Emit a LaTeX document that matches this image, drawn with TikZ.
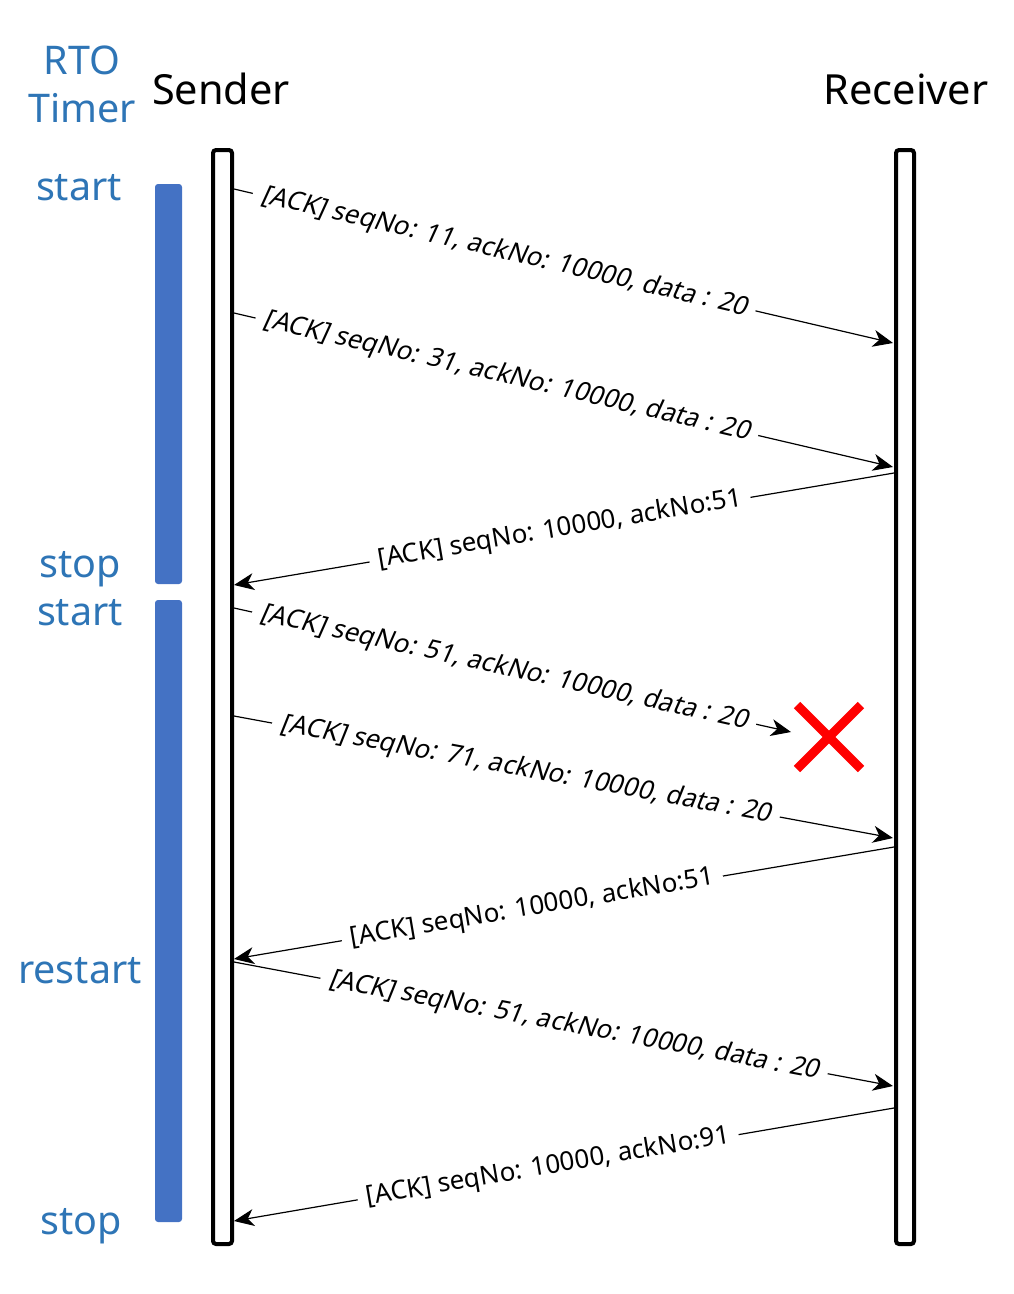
\documentclass[tikz,border=0pt]{standalone}
\usepackage{fontspec}
\setmainfont{Noto Sans}
\newfontfamily\slfont[FakeSlant=0.2]{Noto Sans}
\usetikzlibrary{arrows.meta}
\definecolor{timerblue}{HTML}{4472C4}
\definecolor{textblue}{HTML}{2E75B6}
\tikzset{
  lifeline/.style={draw=black, line width=4pt, rounded corners=3pt, fill=white},
  timerbar/.style={fill=timerblue, draw=none, rounded corners=3pt},
  timertext/.style={text=textblue, font=\fontsize{39.5}{41}\selectfont, inner sep=0pt},
  header/.style={font=\fontsize{41.5}{43}\selectfont, inner sep=0pt},
  msg/.style={line width=1.2pt, -{Stealth[length=20pt,width=17pt,inset=6pt]}},
  outlbl/.style={sloped, fill=white, inner xsep=9pt, inner ysep=2pt, font=\fontsize{26}{28}\slfont},
  retlbl/.style={sloped, fill=white, inner xsep=9pt, inner ysep=2pt, font=\fontsize{26}{28}\selectfont},
  lostx/.style={draw=red, line width=9pt}
}
\begin{document}
\begin{tikzpicture}[x=1pt,y=-1pt]
\useasboundingbox (0,0) rectangle (1014,1294);
% headers
\node[timertext] (rto) at (82,60) {RTO};
\node[timertext] (timer) at (82,108) {Timer};
\node[header] (sender) at (221,89) {Sender};
\node[header] (receiver) at (906,89) {Receiver};
% lifelines
\draw[lifeline] (213,150) rectangle (232,1244);
\draw[lifeline] (896,150) rectangle (914,1244);
% timer bars
\fill[timerbar] (155,184) rectangle (182,584);
\fill[timerbar] (155,600) rectangle (182,1222);
% timer labels
\node[timertext] (t1) at (79,188) {start};
\node[timertext] (t2) at (80,569) {stop};
\node[timertext] (t3) at (80,613) {start};
\node[timertext] (t4) at (80,971) {restart};
\node[timertext] (t5) at (81,1226) {stop};
% endpoints
\coordinate (s1) at (234,189);  \coordinate (r1) at (893,343);
\coordinate (s2) at (234,313);  \coordinate (r2) at (893,467);
\coordinate (r3) at (894,473);  \coordinate (s3) at (234,585);
\coordinate (s4) at (234,608);  \coordinate (lost) at (791,732);
\coordinate (s5) at (234,716);  \coordinate (r5) at (893,838);
\coordinate (r6) at (894,847);  \coordinate (s6) at (234,959);
\coordinate (s7) at (234,962);  \coordinate (r7) at (893,1086);
\coordinate (r8) at (894,1108); \coordinate (s8) at (234,1221);
% messages
\draw[msg] (s1) -- node[outlbl,pos=0.41] (l1) {[ACK] seqNo: 11, ackNo: 10000, data : 20} (r1);
\draw[msg] (s2) -- node[outlbl,pos=0.414] (l2) {[ACK] seqNo: 31, ackNo: 10000, data : 20} (r2);
\draw[msg] (r3) -- node[retlbl,pos=0.506] (l3) {[ACK] seqNo: 10000, ackNo:51} (s3);
\draw[msg] (s4) -- node[outlbl,pos=0.485] (l4) {[ACK] seqNo: 51, ackNo: 10000, data : 20} (lost);
\draw[msg] (s5) -- node[outlbl,pos=0.443] (l5) {[ACK] seqNo: 71, ackNo: 10000, data : 20} (r5);
\draw[msg] (r6) -- node[retlbl,pos=0.548] (l6) {[ACK] seqNo: 10000, ackNo:51} (s6);
\draw[msg] (s7) -- node[outlbl,pos=0.516] (l7) {[ACK] seqNo: 51, ackNo: 10000, data : 20} (r7);
\draw[msg] (r8) -- node[retlbl,pos=0.524] (l8) {[ACK] seqNo: 10000, ackNo:91} (s8);
% lost mark
\coordinate (x1) at (797,705); \coordinate (x2) at (861,769);
\coordinate (x3) at (797,769); \coordinate (x4) at (861,705);
\draw[lostx] (x1) -- (x2);
\draw[lostx] (x3) -- (x4);
\end{tikzpicture}
\end{document}
